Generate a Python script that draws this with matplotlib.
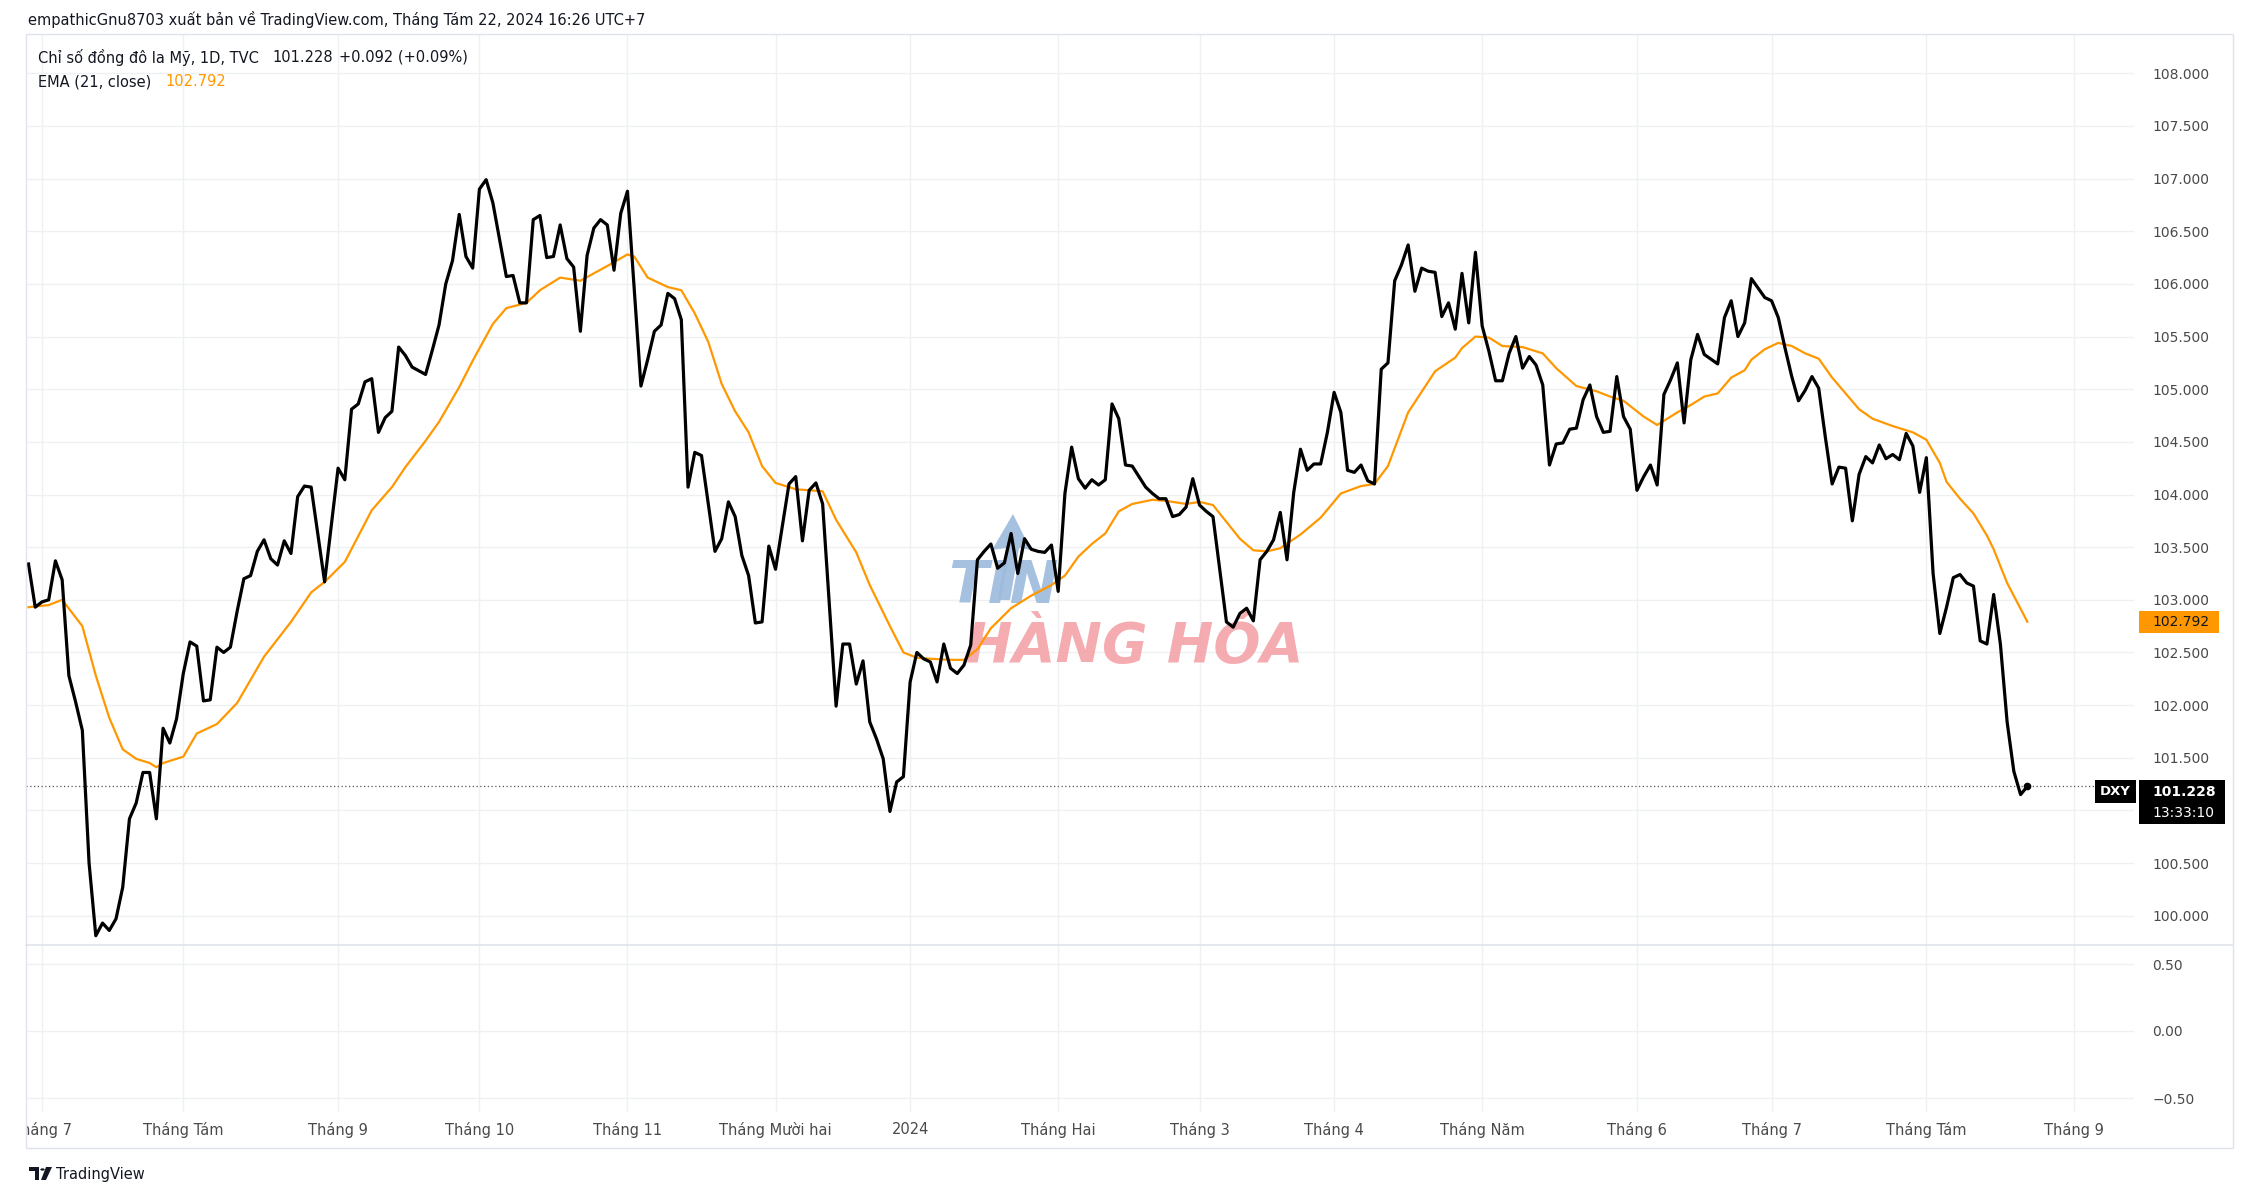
import numpy as np
import matplotlib
matplotlib.use("Agg")
import matplotlib.pyplot as plt
from matplotlib.patches import Rectangle, Polygon, Circle

plt.rcParams['font.family'] = ['DejaVu Sans']

W, H = 2245, 1194

# trading calendar of the chart (TVC:DXY daily bars)
START = "2023-06-29"
HOLIDAYS = ["2023-12-25", "2024-01-01", "2024-03-29"]

# close: bar number (trading days since START) and value
close_day = [0, 1, 2, 3, 4, 5, 6, 7, 8, 9, 10, 11, 12, 13, 14, 15, 16, 17, 18, 19,
             20, 21, 22, 23, 24, 25, 26, 27, 28, 29, 30, 31, 32, 33, 34, 35, 36, 37, 38, 39,
             40, 41, 42, 44, 46, 47, 48, 49, 50, 51, 52, 53, 54, 55, 56, 57, 59, 60, 61,
             62, 63, 64, 65, 66, 67, 68, 69, 71, 72, 73, 74, 75, 76, 77, 78, 79, 80, 81,
             82, 83, 84, 85, 86, 87, 88, 89, 91, 92, 93, 94, 95, 96, 97, 98, 99, 100,
             102, 103, 104, 105, 106, 107, 108, 109, 110, 111, 113, 114, 115, 116, 117, 118,
             120, 121, 122, 123, 124, 125, 126, 127, 128, 129, 130, 131, 132, 133, 134, 135,
             136, 137, 138, 139, 140, 141, 142, 143, 144, 145, 146, 147, 148, 149, 150, 151,
             152, 153, 154, 155, 156, 157, 158, 159, 160, 161, 162, 163, 164, 165, 166, 167,
             168, 169, 170, 171, 172, 173, 174, 175, 176, 178, 179, 180, 181, 182, 183, 184,
             185, 186, 187, 188, 189, 190, 191, 192, 193, 194, 195, 196, 197, 198, 199, 200,
             201, 202, 203, 204, 205, 206, 207, 208, 209, 210, 211, 212, 213, 214, 215, 216,
             217, 218, 219, 220, 221, 222, 223, 224, 225, 226, 227, 228, 229, 230, 231, 232,
             233, 234, 235, 236, 237, 238, 239, 240, 241, 242, 243, 244, 245, 246, 247, 248,
             249, 251, 252, 253, 254, 255, 256, 257, 258, 259, 260, 261, 262, 263, 264, 265,
             266, 267, 268, 269, 270, 271, 272, 273, 274, 275, 276, 277, 278, 279, 280, 281,
             282, 283, 284, 285, 286, 287, 288, 289, 290, 291, 292, 293, 294, 295, 296, 297]
close = [103.34, 102.93, 102.98, 103.00, 103.37, 103.19, 102.28, 102.03, 101.76, 100.50,
         99.81, 99.93, 99.86, 99.97, 100.27, 100.92, 101.07, 101.36, 101.36, 100.92,
         101.78, 101.64, 101.87, 102.30, 102.60, 102.56, 102.04, 102.05, 102.55, 102.50,
         102.55, 102.89, 103.20, 103.23, 103.46, 103.57, 103.39, 103.33, 103.56, 103.44,
         103.98, 104.08, 104.07, 103.17, 104.25, 104.14, 104.81, 104.86, 105.07, 105.10,
         104.59, 104.73, 104.79, 105.40, 105.32, 105.21, 105.14, 105.37, 105.61,
         106.00, 106.22, 106.66, 106.26, 106.15, 106.90, 106.99, 106.77, 106.07, 106.08,
         105.82, 105.82, 106.61, 106.65, 106.25, 106.26, 106.56, 106.24, 106.16,
         105.55, 106.27, 106.53, 106.61, 106.56, 106.13, 106.67, 106.88, 105.03, 105.28,
         105.55, 105.61, 105.91, 105.86, 105.66, 104.07, 104.40, 104.37,
         103.46, 103.58, 103.93, 103.79, 103.42, 103.23, 102.78, 102.79, 103.51, 103.29,
         104.10, 104.17, 103.56, 104.04, 104.11, 103.91,
         101.99, 102.58, 102.58, 102.20, 102.42, 101.84, 101.68, 101.49, 100.99, 101.27,
         101.32, 102.22, 102.50, 102.44, 102.41, 102.22,
         102.58, 102.35, 102.30, 102.38, 102.57, 103.38, 103.46, 103.53, 103.30, 103.35,
         103.63, 103.25, 103.58, 103.48, 103.46, 103.45,
         103.52, 103.08, 104.01, 104.45, 104.15, 104.06, 104.14, 104.09, 104.14, 104.86,
         104.72, 104.28, 104.27, 104.17, 104.07, 104.01,
         103.96, 103.96, 103.79, 103.81, 103.88, 104.15, 103.90, 103.84, 103.79, 102.79,
         102.74, 102.87, 102.92, 102.80, 103.38, 103.46,
         103.57, 103.83, 103.38, 104.02, 104.43, 104.23, 104.29, 104.29, 104.59, 104.97,
         104.78, 104.23, 104.21, 104.28, 104.13, 104.10,
         105.19, 105.25, 106.03, 106.18, 106.37, 105.93, 106.15, 106.12, 106.11, 105.69,
         105.82, 105.57, 106.10, 105.63, 106.30, 105.60,
         105.36, 105.08, 105.08, 105.34, 105.50, 105.20, 105.31, 105.23, 105.04, 104.28,
         104.48, 104.49, 104.62, 104.63, 104.90, 105.04,
         104.74, 104.59, 104.60, 105.12, 104.74, 104.62, 104.04, 104.17, 104.28, 104.09,
         104.95, 105.09, 105.25, 104.68, 105.28, 105.52,
         105.33, 105.24, 105.68, 105.84, 105.50, 105.63, 106.05, 105.96, 105.87, 105.84,
         105.68, 105.39, 105.12, 104.89, 104.99, 105.12,
         105.01, 104.54, 104.10, 104.26, 104.25, 103.75, 104.19, 104.36, 104.30, 104.47,
         104.34, 104.38, 104.33, 104.58, 104.46, 104.02,
         104.35, 103.25, 102.68, 102.93, 103.21, 103.24, 103.16, 103.13, 102.61, 102.58,
         103.05, 102.58, 101.84, 101.37, 101.15, 101.228]

# EMA(21, close)
ema_day = [0, 3, 5, 8, 10, 12, 14, 16, 18, 19, 20, 23, 25, 28, 31, 35, 39, 42, 44, 47,
           51, 54, 56, 59, 61, 64, 66, 69, 71, 74, 76, 79, 82, 86, 89, 90, 92, 95, 97, 99,
           101, 103, 105, 107, 109, 111, 114, 118, 120, 123, 125, 128, 130, 132, 134, 137,
           139, 141, 143, 146, 149, 152, 154, 156, 158, 160, 162, 164, 167, 169, 172, 174,
           176, 178, 180, 182, 184, 186, 189, 192, 195, 198, 200, 202, 205, 209, 212, 213,
           215, 217, 219, 222, 225, 227, 230, 233, 235, 237, 240, 242, 245, 247, 249, 251,
           253, 255, 256, 258, 260, 262, 264, 266, 268, 270, 272, 274, 277, 279, 280, 282,
           284, 285, 287, 289, 291, 292, 294, 297]
ema = [102.93, 102.95, 103.00, 102.75, 102.28, 101.88, 101.58, 101.49, 101.45, 101.41,
       101.45, 101.51, 101.73, 101.82, 102.02, 102.46, 102.79, 103.07, 103.17, 103.36,
       103.85, 104.07, 104.26, 104.51, 104.69, 105.02, 105.27, 105.62, 105.77, 105.82,
       105.94, 106.06, 106.03, 106.17, 106.28, 106.26, 106.06, 105.97, 105.94, 105.72,
       105.45, 105.05, 104.79, 104.59, 104.27, 104.11, 104.05, 104.03, 103.76, 103.45,
       103.14, 102.75, 102.50, 102.45, 102.44, 102.43, 102.43, 102.53, 102.73, 102.92,
       103.04, 103.14, 103.23, 103.41, 103.53, 103.63, 103.84, 103.91, 103.95, 103.94,
       103.91, 103.93, 103.90, 103.74, 103.58, 103.47, 103.46, 103.49, 103.62, 103.78,
       104.01, 104.08, 104.10, 104.27, 104.78, 105.17, 105.30, 105.39, 105.50, 105.49,
       105.41, 105.40, 105.34, 105.20, 105.03, 104.98, 104.93, 104.89, 104.74, 104.66,
       104.78, 104.85, 104.93, 104.96, 105.11, 105.18, 105.28, 105.38, 105.44, 105.41,
       105.34, 105.29, 105.11, 104.96, 104.81, 104.72, 104.65, 104.61, 104.59, 104.52,
       104.30, 104.12, 103.96, 103.82, 103.61, 103.48, 103.16, 102.792]

month_dates = ["2023-07-03", "2023-08-01", "2023-09-01", "2023-10-02", "2023-11-01",
               "2023-12-01", "2024-01-02", "2024-02-01", "2024-03-01", "2024-04-01",
               "2024-05-01", "2024-06-03", "2024-07-01", "2024-08-01", "2024-09-02"]
month_labels = ["Tháng 7", "Tháng Tám", "Tháng 9", "Tháng 10", "Tháng 11",
                "Tháng Mười hai", "2024", "Tháng Hai", "Tháng 3", "Tháng 4",
                "Tháng Năm", "Tháng 6", "Tháng 7", "Tháng Tám", "Tháng 9"]

price_ticks = [100.0, 100.5, 101.0, 101.5, 102.0, 102.5, 103.0, 103.5, 104.0,
               104.5, 105.0, 105.5, 106.0, 106.5, 107.0, 107.5, 108.0]
osc_ticks = [0.5, 0.0, -0.5]
osc_labels = ["0.50", "0.00", "\u22120.50"]

last_close = 101.228
last_ema = 102.792

# ---- layout (pixels of the 2245x1194 picture)
def fx(x):
    return x / W

def fy(y):
    return 1 - y / H

LEFT, RIGHT, FRAME_R = 26, 2134, 2233
TOP, PANE_B, LOW_B, TIME_B = 34, 945, 1112, 1148
BAR0, BAR = 28.5, 6.73          # pixel of bar 0 and bar spacing
GRID = '#eef0f4'
TXT = '#131722'
SCALE_TXT = '#4a4a4a'
ORANGE = '#FF9800'
FS = 10.5

month_pos = np.busday_count(START, month_dates, holidays=HOLIDAYS)
xlim = ((LEFT - BAR0) / BAR, (RIGHT - BAR0) / BAR)

fig = plt.figure(figsize=(W / 100, H / 100), dpi=100)
fig.patch.set_facecolor('white')

ax = fig.add_axes([fx(LEFT), fy(PANE_B), (RIGHT - LEFT) / W, (PANE_B - TOP) / H])
ax2 = fig.add_axes([fx(LEFT), fy(LOW_B), (RIGHT - LEFT) / W, (LOW_B - PANE_B) / H])
ax3 = fig.add_axes([fx(LEFT), fy(TIME_B), (RIGHT - LEFT) / W, (TIME_B - LOW_B) / H])

for a in (ax, ax2, ax3):
    for s in a.spines.values():
        s.set_visible(False)
    a.set_xlim(*xlim)

# price pane; the 101.000 label sits under the last-price badge
ax.set_ylim(108 - (PANE_B - 73.3) / 105.3, 108 + (73.3 - TOP) / 105.3)
ax.set_xticks(month_pos)
ax.set_yticks(price_ticks)
ax.set_yticklabels(["" if abs(v - last_close) < 0.25 else f"{v:.3f}" for v in price_ticks])
ax.yaxis.tick_right()
ax.tick_params(axis='y', length=0, pad=13, labelsize=10, labelcolor=SCALE_TXT)
ax.tick_params(axis='x', length=0, labelbottom=False)
ax.grid(True, color=GRID, lw=1.0, zorder=0)
ax.set_axisbelow(True)

ax.plot(ema_day, ema, color=ORANGE, lw=1.6, zorder=3)
ax.plot(close_day, close, color='black', lw=2.3, zorder=4, solid_joinstyle='round')
ax.plot(close_day[-1], close[-1], 'o', ms=4.5, color='black', zorder=5)
ax.axhline(last_close, color='#555555', lw=0.9, ls=(0, (1, 2)), zorder=2)

# watermark
ax.text(fx(948), fy(603), "TIN", transform=fig.transFigure, fontsize=42,
        fontweight='bold', fontstyle='italic', color='#9dbbdc', alpha=0.9, zorder=1)
ax.text(fx(966), fy(662), "HÀNG HÓA", transform=fig.transFigure, fontsize=40,
        fontweight='bold', fontstyle='italic', color='#f4a3a8', alpha=0.9, zorder=1)
arrow = [(1013, 514), (1031, 550), (1019, 548), (1010, 600), (998, 600), (1006, 548), (992, 550)]
ax.add_patch(Polygon([(fx(x), fy(y)) for x, y in arrow], closed=True, transform=fig.transFigure,
                     facecolor='#9dbbdc', edgecolor='none', alpha=0.9, zorder=1))

# lower (empty) pane
ax2.set_ylim(-0.5 - (LOW_B - 1098) / 134, 0.5 + (964 - PANE_B) / 134)
ax2.set_xticks(month_pos)
ax2.set_yticks(osc_ticks)
ax2.set_yticklabels(osc_labels)
ax2.yaxis.tick_right()
ax2.tick_params(axis='y', length=0, pad=13, labelsize=10, labelcolor=SCALE_TXT)
ax2.tick_params(axis='x', length=0, labelbottom=False)
ax2.grid(True, color=GRID, lw=1.0)

# time scale
ax3.set_ylim(0, 1)
ax3.set_xticks([])
ax3.set_yticks([])
ax3.patch.set_alpha(0)
for p, lab in zip(month_pos, month_labels):
    ax3.text(p, 0.5, lab, ha='center', va='center', fontsize=FS, color=SCALE_TXT, clip_on=True)

# frame and pane divider
fig.add_artist(Rectangle((fx(LEFT), fy(TIME_B)), (FRAME_R - LEFT) / W, (TIME_B - TOP) / H,
                         transform=fig.transFigure, facecolor='none', edgecolor='#e0e3eb', lw=1))
fig.add_artist(plt.Line2D([fx(LEFT), fx(FRAME_R)], [fy(PANE_B), fy(PANE_B)],
                          transform=fig.transFigure, color='#e0e3eb', lw=1.2))

# scale badges
def badge(x0, y0, x1, y1, color):
    fig.add_artist(Rectangle((fx(x0), fy(y1)), (x1 - x0) / W, (y1 - y0) / H,
                             transform=fig.transFigure, facecolor=color, edgecolor='none', zorder=5))

y_ema = 73.3 + (108 - last_ema) * 105.3
badge(2139, y_ema - 11, 2219, y_ema + 11, ORANGE)
fig.text(fx(2152), fy(y_ema), f"{last_ema:.3f}", fontsize=10, color=TXT, va='center', zorder=6)

badge(2095, 780, 2136, 803, 'black')
fig.text(fx(2115.5), fy(791.5), "DXY", fontsize=9.5, color='white', fontweight='bold',
         ha='center', va='center', zorder=6)
badge(2139, 780, 2225, 824, 'black')
fig.text(fx(2152), fy(791.5), f"{last_close:.3f}", fontsize=10, color='white', fontweight='bold',
         va='center', zorder=6)
fig.text(fx(2152), fy(813), "13:33:10", fontsize=10, color='white', va='center', zorder=6)

# header and legend
fig.text(fx(28), fy(20), "empathicGnu8703 xuất bản về TradingView.com, Tháng Tám 22, 2024 16:26 UTC+7",
         fontsize=FS, color=TXT, va='center')
fig.text(fx(38), fy(57), "Chỉ số đồng đô la Mỹ, 1D, TVC", fontsize=FS, color=TXT, va='center')
fig.text(fx(272), fy(57), f"{last_close:.3f}", fontsize=FS, color=TXT, va='center')
fig.text(fx(339), fy(57), "+0.092 (+0.09%)", fontsize=FS, color=TXT, va='center')
fig.text(fx(38), fy(82), "EMA (21, close)", fontsize=FS, color=TXT, va='center')
fig.text(fx(165), fy(82), f"{last_ema:.3f}", fontsize=FS, color=ORANGE, va='center')

# TradingView logo
fig.add_artist(Polygon([(fx(x), fy(y)) for x, y in
                        [(29, 1167), (39, 1167), (39, 1180), (35, 1180), (35, 1171), (29, 1171)]],
                       closed=True, transform=fig.transFigure, facecolor=TXT, edgecolor='none'))
fig.add_artist(Circle((fx(42.5), fy(1169.5)), 2.2 / W, transform=fig.transFigure,
                      facecolor=TXT, edgecolor='none'))
fig.add_artist(Polygon([(fx(x), fy(y)) for x, y in
                        [(46, 1167), (52, 1167), (46, 1180), (41, 1180)]],
                       closed=True, transform=fig.transFigure, facecolor=TXT, edgecolor='none'))
fig.text(fx(56), fy(1174), "TradingView", fontsize=10.5, color=TXT, va='center')

fig.savefig("out.png", dpi=100, facecolor='white')
